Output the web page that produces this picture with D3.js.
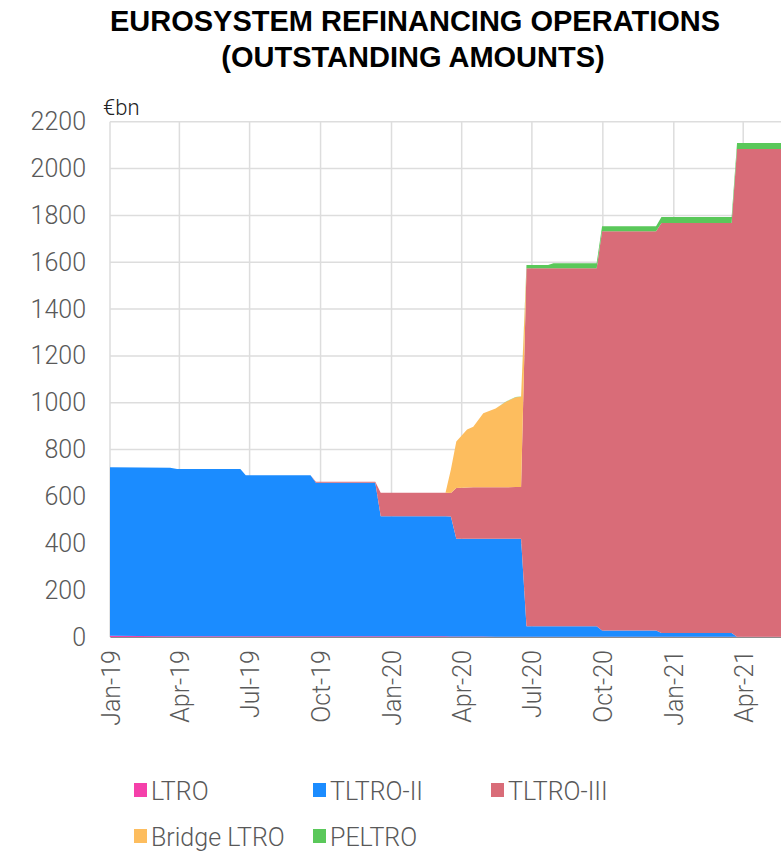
<!DOCTYPE html>
<html>
<head>
<meta charset="utf-8">
<script src="https://cdn.jsdelivr.net/npm/d3@7"></script>
<style>
  body { margin: 0; background: #fff; }
  svg { display: block; }
</style>
</head>
<body>
<svg></svg>
<script>
// chart size
const width = 781, height = 853;
const left_offset = 110, top_offset = 121.7, plot_bottom = 637, plot_right = 781;

// break points of the weekly series (values change linearly between them)
const dates = ["2019-01-01", "2019-03-20", "2019-03-29", "2019-06-19", "2019-06-26",
  "2019-09-18", "2019-09-25", "2019-12-11", "2019-12-18", "2020-03-11",
  "2020-03-18", "2020-03-25", "2020-04-08", "2020-04-16", "2020-04-29",
  "2020-05-15", "2020-05-29", "2020-06-10", "2020-06-17", "2020-06-24",
  "2020-07-22", "2020-07-29", "2020-09-23", "2020-09-30", "2020-12-09",
  "2020-12-16", "2021-03-17", "2021-03-24", "2021-05-20"];

const ltro      = [5, 3, 3, 3, 3, 3, 3, 3, 3, 3, 2, 2, 2, 2, 2, 1, 1, 1, 1, 1,
                   1, 1, 1, 1, 1, 1, 1, 1, 1];
const tltro2    = [720, 720, 714, 714, 688, 688, 656, 656, 512, 512, 512, 418, 418, 418, 418,
                   418, 418, 418, 418, 45, 45, 45, 45, 27, 27, 16, 16, 0, 0];
const tltro3    = [0, 0, 0, 0, 0, 0, 3.4, 3.4, 101, 101, 101, 216, 218, 219, 219,
                   220, 220, 221, 221, 1528, 1528, 1528, 1528, 1704, 1704, 1750, 1750, 2082, 2082];
const bridge    = [0, 0, 0, 0, 0, 0, 0, 0, 0, 0, 100, 199, 248, 259, 316,
                   337, 366, 384, 386, 0, 0, 0, 0, 0, 0, 0, 0, 0, 0];
const peltro    = [0, 0, 0, 0, 0, 0, 0, 0, 0, 0, 0, 0, 0, 0, 0,
                   0, 1, 1, 1, 14, 14, 22, 22, 22, 22, 26, 26, 26, 26];

const seriesNames = ["LTRO", "TLTRO-II", "TLTRO-III", "Bridge LTRO", "PELTRO"];
const colors = ["#f540aa", "#1b8cff", "#d96c78", "#fdbd5e", "#5ac85a"];

const xTickDates = ["2019-01-01", "2019-04-01", "2019-07-01", "2019-10-01", "2020-01-01",
  "2020-04-01", "2020-07-01", "2020-10-01", "2021-01-01", "2021-04-01"];
const yTicks = d3.range(0, 2201, 200);

const parse = d3.timeParse("%Y-%m-%d");
const fmt = d3.timeFormat("%b-%y");

// build rows for the stack
const table = dates.map((d, i) => ({
  date: parse(d),
  "LTRO": ltro[i],
  "TLTRO-II": tltro2[i],
  "TLTRO-III": tltro3[i],
  "Bridge LTRO": bridge[i],
  "PELTRO": peltro[i]
}));

const light_font = "'Helvetica Neue', Roboto, 'Liberation Sans', sans-serif";

let svg = d3.select("svg")
  .attr("width", width)
  .attr("height", height);

// scales
let xScale = d3.scaleTime()
  .domain([parse("2019-01-01"), parse("2021-05-20")])
  .range([left_offset, plot_right]);

let yScale = d3.scaleLinear()
  .domain([0, 2200])
  .range([plot_bottom, top_offset]);

// gridlines
let grid = svg.append("g").attr("id", "grid");
grid.selectAll("line.h")
  .data(yTicks)
  .enter().append("line")
  .attr("class", "h")
  .attr("x1", left_offset).attr("x2", plot_right)
  .attr("y1", d => yScale(d)).attr("y2", d => yScale(d))
  .attr("stroke", "#dddddd").attr("stroke-width", 1.5);

grid.selectAll("line.v")
  .data(xTickDates.map(parse))
  .enter().append("line")
  .attr("class", "v")
  .attr("x1", d => xScale(d)).attr("x2", d => xScale(d))
  .attr("y1", top_offset).attr("y2", plot_bottom)
  .attr("stroke", "#dddddd").attr("stroke-width", 1.5);

// stacked areas
let stack = d3.stack().keys(seriesNames);
let layers = stack(table);

let area = d3.area()
  .x(d => xScale(d.data.date))
  .y0(d => yScale(d[0]))
  .y1(d => yScale(d[1]));

svg.append("g")
  .attr("id", "areas")
  .selectAll("path")
  .data(layers)
  .enter().append("path")
  .attr("d", area)
  .attr("fill", (d, i) => colors[i]);

// x axis
let xAxis = d3.axisBottom(xScale)
  .tickValues(xTickDates.map(parse))
  .tickFormat(fmt)
  .tickSize(0)
  .tickPadding(0);

let gx = svg.append("g")
  .attr("transform", "translate(0," + plot_bottom + ")")
  .call(xAxis);
gx.select(".domain").attr("stroke", "#8c8c8c").attr("stroke-width", 1.2);
gx.selectAll("text")
  .attr("transform", "rotate(-90)")
  .attr("x", -13)
  .attr("y", 0)
  .attr("dy", "0.36em")
  .style("text-anchor", "end")
  .attr("fill", "#595959")
  .style("font-family", light_font)
  .style("font-weight", 300)
  .style("font-size", "25px");

// y axis
let yAxis = d3.axisLeft(yScale)
  .tickValues(yTicks)
  .tickFormat(d3.format("d"))
  .tickSize(0)
  .tickPadding(24);

let gy = svg.append("g")
  .attr("transform", "translate(" + left_offset + ",0)")
  .call(yAxis);
gy.select(".domain").remove();
gy.selectAll("text")
  .attr("fill", "#595959")
  .style("font-family", light_font)
  .style("font-weight", 300)
  .style("font-size", "25px");

// unit label
svg.append("text")
  .attr("x", 103)
  .attr("y", 115)
  .attr("fill", "#222")
  .style("font-family", light_font)
  .style("font-weight", 300)
  .style("font-size", "22px")
  .text("€bn");

// title
let title = svg.append("text")
  .attr("text-anchor", "middle")
  .style("font-family", "'Liberation Sans', Arial, sans-serif")
  .style("font-weight", "bold")
  .style("font-size", "29px")
  .attr("fill", "#000");
title.append("tspan").attr("x", 415).attr("y", 31).text("EUROSYSTEM REFINANCING OPERATIONS");
title.append("tspan").attr("x", 413).attr("y", 67).text("(OUTSTANDING AMOUNTS)");

// legend
const legend_x = [134, 313, 491, 134, 313];
const legend_y = [790, 790, 790, 836, 836];

let legend = svg.append("g").attr("id", "legend")
  .selectAll("g")
  .data(seriesNames)
  .enter().append("g")
  .attr("transform", (d, i) => "translate(" + legend_x[i] + "," + legend_y[i] + ")");

legend.append("rect")
  .attr("x", 0).attr("y", -7)
  .attr("width", 13).attr("height", 14)
  .attr("fill", (d, i) => colors[i]);

legend.append("text")
  .attr("x", 17)
  .attr("y", 10)
  .attr("fill", "#595959")
  .style("font-family", light_font)
  .style("font-weight", 300)
  .style("font-size", "25px")
  .text(d => d);
</script>
</body>
</html>
